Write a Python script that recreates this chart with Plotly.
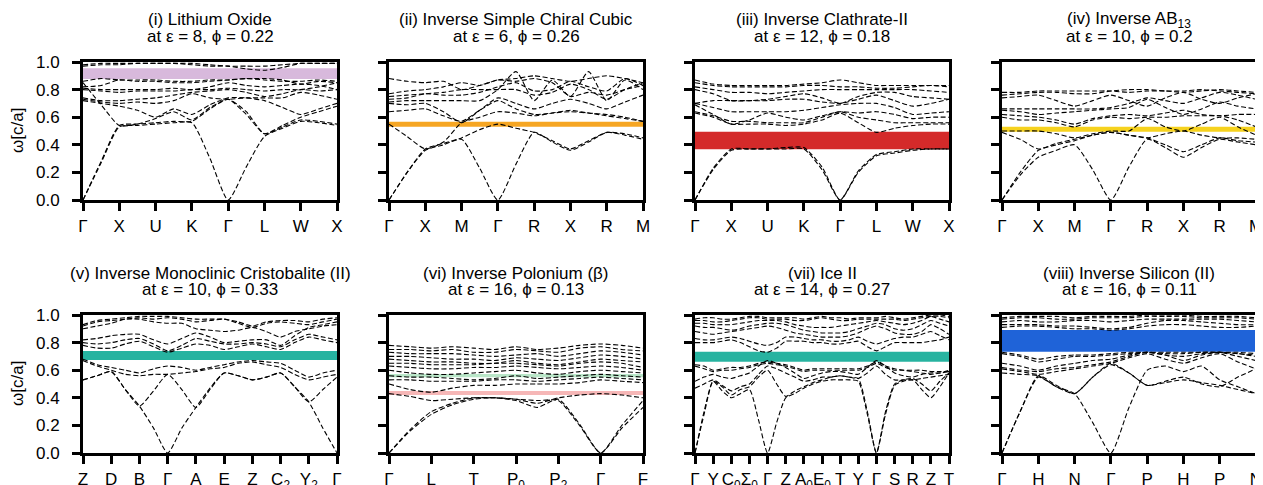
import plotly.graph_objects as go

# ---------------- data ----------------
title_line1 = [
    "(i) Lithium Oxide",
    "(ii) Inverse Simple Chiral Cubic",
    "(iii) Inverse Clathrate-II",
    "(iv) Inverse AB<sub>13</sub>",
    "(v) Inverse Monoclinic Cristobalite (II)",
    "(vi) Inverse Polonium (β)",
    "(vii) Ice II",
    "(viii) Inverse Silicon (II)",
]
title_line2 = [
    "at ε = 8, ϕ = 0.22",
    "at ε = 6, ϕ = 0.26",
    "at ε = 12, ϕ = 0.18",
    "at ε = 10, ϕ = 0.2",
    "at ε = 10, ϕ = 0.33",
    "at ε = 16, ϕ = 0.13",
    "at ε = 14, ϕ = 0.27",
    "at ε = 16, ϕ = 0.11",
]

p1_labels = ["Γ", "X", "U", "K", "Γ", "L", "W", "X"]
p2_labels = ["Γ", "X", "M", "Γ", "R", "X", "R", "M"]
p3_labels = ["Γ", "X", "U", "K", "Γ", "L", "W", "X"]
p4_labels = ["Γ", "X", "M", "Γ", "R", "X", "R", "M"]
p5_labels = ["Z", "D", "B", "Γ", "A", "E", "Z", "C<sub>2</sub>", "Y<sub>2</sub>", "Γ"]
p6_labels = ["Γ", "L", "T", "P<sub>0</sub>", "P<sub>2</sub>", "Γ", "F"]
p7_labels = ["Γ", "Y", "C<sub>0</sub>", "Σ<sub>0</sub>", "Γ", "Z", "A<sub>0</sub>", "E<sub>0</sub>",
             "T", "Y", "Γ", "S", "R", "Z", "T"]
p8_labels = ["Γ", "H", "N", "Γ", "P", "H", "P", "N"]

# band frequencies (omega a/2pi c) sampled at every high-symmetry point and half-way between
p1_bands = [
    [0.00,0.27,0.53,0.54,0.55,0.56,0.56,0.30,0.00,0.24,0.46,0.52,0.57,0.56,0.54],
    [0.00,0.28,0.54,0.55,0.56,0.57,0.57,0.66,0.73,0.62,0.48,0.53,0.58,0.57,0.55],
    [0.85,0.69,0.54,0.55,0.59,0.64,0.58,0.67,0.73,0.64,0.48,0.54,0.60,0.64,0.68],
    [0.72,0.70,0.68,0.65,0.60,0.66,0.62,0.69,0.74,0.74,0.72,0.67,0.62,0.66,0.70],
    [0.73,0.71,0.70,0.71,0.70,0.72,0.77,0.74,0.73,0.74,0.74,0.74,0.78,0.76,0.73],
    [0.74,0.72,0.72,0.73,0.74,0.76,0.78,0.79,0.80,0.78,0.75,0.77,0.80,0.79,0.80],
    [0.80,0.79,0.78,0.79,0.79,0.79,0.80,0.80,0.81,0.80,0.79,0.80,0.80,0.82,0.85],
    [0.81,0.80,0.80,0.80,0.80,0.81,0.80,0.82,0.85,0.83,0.82,0.83,0.84,0.83,0.80],
    [0.82,0.83,0.87,0.86,0.86,0.85,0.85,0.86,0.87,0.88,0.88,0.87,0.84,0.86,0.85],
    [0.86,0.88,0.87,0.87,0.87,0.86,0.86,0.87,0.87,0.88,0.87,0.86,0.86,0.87,0.86],
    [0.97,0.98,0.98,0.99,0.99,0.99,0.98,0.97,0.97,0.95,0.94,0.96,0.99,0.99,0.99],
    [0.98,0.99,0.99,0.99,0.99,0.99,0.99,0.98,0.97,0.97,0.97,0.98,0.99,0.99,0.99],
]
p2_bands = [
    [0.00,0.20,0.36,0.40,0.44,0.23,0.00,0.26,0.49,0.42,0.36,0.42,0.49,0.47,0.44],
    [0.00,0.20,0.37,0.41,0.45,0.51,0.55,0.52,0.49,0.43,0.37,0.43,0.49,0.48,0.45],
    [0.55,0.46,0.37,0.42,0.56,0.60,0.64,0.63,0.61,0.63,0.64,0.63,0.61,0.59,0.57],
    [0.64,0.65,0.66,0.61,0.57,0.65,0.72,0.66,0.62,0.63,0.65,0.63,0.62,0.60,0.57],
    [0.70,0.69,0.70,0.64,0.56,0.65,0.74,0.70,0.66,0.70,0.73,0.70,0.66,0.71,0.76],
    [0.71,0.72,0.72,0.72,0.72,0.72,0.80,0.93,0.72,0.87,0.75,0.93,0.72,0.87,0.80],
    [0.73,0.74,0.77,0.76,0.76,0.78,0.82,0.85,0.79,0.80,0.86,0.82,0.79,0.88,0.83],
    [0.75,0.76,0.77,0.78,0.80,0.80,0.80,0.80,0.76,0.78,0.84,0.80,0.73,0.80,0.85],
    [0.77,0.79,0.80,0.82,0.85,0.83,0.87,0.86,0.88,0.85,0.75,0.78,0.76,0.80,0.83],
    [0.88,0.86,0.85,0.86,0.80,0.83,0.87,0.88,0.90,0.88,0.86,0.88,0.90,0.88,0.85],
]
p3_bands = [
    [0.00,0.22,0.36,0.37,0.37,0.37,0.37,0.22,0.00,0.20,0.32,0.34,0.36,0.37,0.37],
    [0.00,0.23,0.37,0.37,0.37,0.38,0.38,0.24,0.00,0.21,0.33,0.35,0.37,0.37,0.37],
    [0.63,0.60,0.55,0.55,0.55,0.54,0.55,0.58,0.63,0.56,0.49,0.52,0.54,0.55,0.55],
    [0.64,0.61,0.57,0.57,0.56,0.56,0.56,0.60,0.64,0.60,0.58,0.56,0.56,0.56,0.56],
    [0.69,0.62,0.55,0.58,0.63,0.60,0.58,0.61,0.64,0.63,0.64,0.62,0.59,0.60,0.60],
    [0.70,0.67,0.64,0.64,0.64,0.64,0.65,0.67,0.69,0.70,0.70,0.67,0.62,0.63,0.64],
    [0.70,0.72,0.72,0.72,0.72,0.73,0.73,0.71,0.70,0.73,0.76,0.72,0.68,0.70,0.73],
    [0.80,0.77,0.72,0.72,0.73,0.75,0.77,0.74,0.70,0.75,0.78,0.78,0.75,0.74,0.73],
    [0.82,0.80,0.78,0.78,0.77,0.78,0.79,0.80,0.80,0.80,0.80,0.80,0.80,0.79,0.78],
    [0.85,0.83,0.82,0.82,0.82,0.82,0.83,0.83,0.82,0.82,0.81,0.81,0.82,0.83,0.82],
    [0.87,0.84,0.83,0.83,0.83,0.83,0.84,0.85,0.87,0.85,0.83,0.83,0.83,0.83,0.83],
]
p4_bands = [
    [0.00,0.18,0.31,0.36,0.40,0.22,0.00,0.24,0.44,0.38,0.31,0.38,0.44,0.42,0.40],
    [0.00,0.20,0.36,0.40,0.43,0.47,0.49,0.47,0.45,0.40,0.35,0.40,0.45,0.43,0.42],
    [0.49,0.44,0.37,0.41,0.44,0.47,0.49,0.47,0.45,0.48,0.50,0.47,0.45,0.45,0.44],
    [0.50,0.50,0.50,0.48,0.45,0.48,0.50,0.50,0.59,0.53,0.50,0.55,0.60,0.53,0.47],
    [0.60,0.58,0.58,0.56,0.53,0.58,0.60,0.59,0.60,0.60,0.61,0.61,0.61,0.58,0.53],
    [0.62,0.61,0.60,0.58,0.55,0.59,0.61,0.62,0.61,0.63,0.65,0.62,0.61,0.62,0.62],
    [0.65,0.64,0.62,0.63,0.64,0.65,0.66,0.67,0.73,0.67,0.62,0.66,0.71,0.68,0.66],
    [0.66,0.66,0.66,0.66,0.66,0.66,0.67,0.70,0.74,0.72,0.70,0.74,0.78,0.76,0.73],
    [0.74,0.75,0.76,0.72,0.68,0.72,0.76,0.72,0.68,0.74,0.78,0.73,0.70,0.74,0.77],
    [0.76,0.77,0.78,0.78,0.77,0.77,0.79,0.80,0.80,0.79,0.78,0.79,0.80,0.79,0.78],
    [0.78,0.78,0.79,0.79,0.79,0.79,0.79,0.78,0.79,0.79,0.79,0.80,0.79,0.78,0.77],
]
p5_bands = [
    [0.53,0.56,0.59,0.46,0.34,0.18,0.00,0.18,0.33,0.47,0.58,0.56,0.53,0.55,0.58,0.48,0.37,0.18,0.00],
    [0.53,0.56,0.59,0.46,0.34,0.45,0.57,0.46,0.33,0.46,0.58,0.56,0.53,0.55,0.58,0.48,0.37,0.46,0.55],
    [0.67,0.63,0.60,0.57,0.56,0.57,0.57,0.58,0.59,0.61,0.62,0.65,0.66,0.64,0.62,0.57,0.53,0.55,0.57],
    [0.68,0.64,0.62,0.60,0.58,0.61,0.63,0.62,0.60,0.62,0.64,0.66,0.67,0.66,0.65,0.60,0.55,0.58,0.60],
    [0.78,0.76,0.76,0.79,0.81,0.77,0.73,0.76,0.79,0.78,0.75,0.77,0.79,0.77,0.75,0.80,0.84,0.82,0.80],
    [0.80,0.79,0.80,0.82,0.83,0.79,0.74,0.78,0.83,0.81,0.79,0.79,0.80,0.79,0.77,0.82,0.86,0.84,0.82],
    [0.82,0.83,0.85,0.86,0.86,0.82,0.79,0.83,0.87,0.84,0.80,0.81,0.82,0.82,0.78,0.85,0.91,0.93,0.95],
    [0.90,0.92,0.94,0.97,0.97,0.95,0.94,0.94,0.90,0.89,0.88,0.89,0.91,0.88,0.84,0.88,0.90,0.92,0.93],
    [0.92,0.95,0.96,0.97,0.98,0.97,0.98,0.97,0.95,0.96,0.97,0.94,0.91,0.94,0.95,0.94,0.93,0.95,0.97],
    [0.93,0.96,0.97,0.98,0.99,0.99,0.99,0.98,0.97,0.97,0.97,0.95,0.92,0.95,0.96,0.96,0.95,0.97,0.98],
]
p6_bands = [
    [0.00,0.16,0.28,0.35,0.39,0.40,0.39,0.38,0.38,0.20,0.00,0.18,0.33],
    [0.00,0.17,0.30,0.36,0.40,0.40,0.38,0.33,0.39,0.21,0.00,0.20,0.38],
    [0.43,0.41,0.38,0.39,0.40,0.40,0.39,0.36,0.40,0.42,0.43,0.42,0.40],
    [0.50,0.46,0.44,0.47,0.49,0.49,0.50,0.50,0.50,0.51,0.53,0.52,0.51],
    [0.53,0.53,0.52,0.52,0.52,0.53,0.53,0.52,0.53,0.54,0.55,0.54,0.53],
    [0.56,0.55,0.55,0.54,0.53,0.54,0.56,0.54,0.55,0.56,0.57,0.56,0.55],
    [0.60,0.58,0.57,0.57,0.58,0.59,0.60,0.58,0.57,0.59,0.60,0.59,0.58],
    [0.63,0.62,0.61,0.61,0.62,0.62,0.63,0.62,0.61,0.62,0.63,0.62,0.60],
    [0.65,0.65,0.64,0.64,0.64,0.65,0.65,0.64,0.63,0.65,0.66,0.65,0.62],
    [0.68,0.67,0.66,0.66,0.65,0.65,0.67,0.65,0.64,0.66,0.68,0.67,0.66],
    [0.70,0.70,0.69,0.68,0.68,0.67,0.69,0.68,0.67,0.69,0.71,0.70,0.68],
    [0.73,0.72,0.72,0.72,0.71,0.70,0.71,0.72,0.70,0.72,0.74,0.73,0.71],
    [0.75,0.75,0.74,0.75,0.73,0.73,0.75,0.74,0.73,0.76,0.77,0.75,0.74],
    [0.78,0.77,0.76,0.77,0.76,0.75,0.77,0.75,0.76,0.78,0.79,0.78,0.76],
]
p7_bands = [
    [0.00,0.28,0.52,0.45,0.40,0.43,0.46,0.24,0.00,0.22,0.40,0.43,0.47,0.50,0.52,0.53,0.53,0.53,0.52,0.28,0.00,0.28,0.49,0.52,0.53,0.46,0.40,0.48,0.58],
    [0.00,0.30,0.52,0.48,0.42,0.46,0.48,0.55,0.60,0.50,0.41,0.45,0.48,0.51,0.53,0.55,0.56,0.55,0.54,0.30,0.00,0.30,0.50,0.53,0.54,0.50,0.45,0.52,0.58],
    [0.47,0.50,0.53,0.49,0.45,0.48,0.50,0.57,0.63,0.61,0.58,0.55,0.52,0.53,0.55,0.55,0.56,0.55,0.54,0.58,0.63,0.57,0.53,0.53,0.53,0.54,0.55,0.56,0.57],
    [0.52,0.55,0.57,0.55,0.54,0.56,0.58,0.63,0.67,0.65,0.62,0.58,0.54,0.56,0.58,0.59,0.59,0.58,0.57,0.62,0.67,0.63,0.58,0.56,0.55,0.57,0.58,0.58,0.59],
    [0.63,0.61,0.59,0.60,0.60,0.61,0.62,0.64,0.65,0.64,0.63,0.61,0.59,0.60,0.60,0.60,0.60,0.60,0.60,0.62,0.65,0.62,0.60,0.60,0.60,0.60,0.59,0.59,0.59],
    [0.64,0.63,0.60,0.61,0.62,0.62,0.63,0.65,0.66,0.65,0.64,0.62,0.60,0.61,0.61,0.61,0.61,0.61,0.61,0.63,0.66,0.63,0.61,0.60,0.59,0.58,0.57,0.58,0.60],
    [0.80,0.80,0.80,0.81,0.82,0.80,0.77,0.74,0.73,0.76,0.81,0.81,0.81,0.80,0.80,0.79,0.79,0.80,0.81,0.77,0.74,0.77,0.80,0.80,0.80,0.80,0.81,0.82,0.84],
    [0.83,0.82,0.82,0.83,0.84,0.83,0.81,0.79,0.78,0.80,0.84,0.84,0.83,0.82,0.82,0.81,0.81,0.82,0.84,0.81,0.79,0.81,0.83,0.84,0.84,0.86,0.88,0.85,0.82],
    [0.88,0.87,0.86,0.87,0.88,0.89,0.90,0.91,0.92,0.91,0.89,0.87,0.86,0.85,0.84,0.84,0.84,0.85,0.87,0.90,0.92,0.90,0.87,0.86,0.86,0.88,0.93,0.90,0.86],
    [0.92,0.91,0.91,0.90,0.89,0.90,0.92,0.93,0.94,0.94,0.93,0.91,0.89,0.88,0.87,0.87,0.87,0.88,0.90,0.92,0.94,0.93,0.90,0.89,0.90,0.93,0.96,0.94,0.92],
    [0.94,0.94,0.93,0.93,0.93,0.94,0.95,0.96,0.96,0.96,0.95,0.93,0.92,0.91,0.91,0.91,0.92,0.93,0.94,0.95,0.96,0.95,0.94,0.93,0.94,0.96,0.99,0.97,0.95],
    [0.96,0.96,0.95,0.95,0.96,0.97,0.98,0.98,0.97,0.97,0.97,0.96,0.96,0.97,0.98,0.97,0.96,0.96,0.97,0.97,0.97,0.97,0.97,0.96,0.97,0.98,0.99,0.99,0.98],
    [0.97,0.98,0.98,0.97,0.97,0.98,0.99,0.99,0.98,0.98,0.98,0.98,0.97,0.98,0.99,0.98,0.98,0.97,0.98,0.98,0.98,0.99,0.98,0.97,0.98,0.99,1.00,1.00,0.99],
]
p8_bands = [
    [0.00,0.30,0.55,0.48,0.43,0.22,0.00,0.33,0.60,0.63,0.59,0.63,0.53,0.48,0.43],
    [0.00,0.30,0.56,0.49,0.43,0.55,0.64,0.58,0.49,0.52,0.55,0.50,0.48,0.55,0.61],
    [0.58,0.57,0.56,0.48,0.43,0.55,0.65,0.58,0.49,0.51,0.53,0.51,0.49,0.46,0.43],
    [0.61,0.59,0.57,0.59,0.61,0.63,0.65,0.69,0.72,0.68,0.65,0.69,0.72,0.66,0.61],
    [0.62,0.60,0.59,0.61,0.62,0.64,0.66,0.70,0.73,0.71,0.67,0.71,0.73,0.70,0.67],
    [0.65,0.63,0.60,0.63,0.65,0.67,0.68,0.71,0.73,0.71,0.70,0.72,0.73,0.72,0.70],
    [0.72,0.70,0.66,0.68,0.70,0.70,0.71,0.72,0.73,0.72,0.72,0.73,0.73,0.72,0.71],
    [0.73,0.71,0.68,0.70,0.71,0.71,0.72,0.73,0.73,0.73,0.73,0.73,0.73,0.73,0.72],
    [0.91,0.92,0.92,0.91,0.90,0.90,0.89,0.90,0.92,0.93,0.93,0.92,0.91,0.91,0.92],
    [0.93,0.93,0.93,0.92,0.92,0.91,0.90,0.91,0.94,0.96,0.96,0.95,0.94,0.93,0.93],
    [0.95,0.96,0.95,0.95,0.96,0.96,0.95,0.96,0.97,0.97,0.97,0.97,0.97,0.96,0.95],
    [0.97,0.98,0.98,0.97,0.97,0.98,0.98,0.98,0.99,0.99,0.99,0.98,0.98,0.98,0.97],
    [0.98,0.99,0.99,0.99,0.98,0.99,0.99,0.99,1.00,1.00,1.00,0.99,0.99,0.99,0.98],
]

# photonic band gaps: (lower edge, upper edge)
p1_gaps = [(0.877, 0.954)]
p2_gaps = [(0.531, 0.567)]
p3_gaps = [(0.367, 0.495)]
p4_gaps = [(0.495, 0.531)]
p5_gaps = [(0.674, 0.739)]
p6_gaps = [(0.549, 0.572), (0.420, 0.449)]
p7_gaps = [(0.662, 0.734)]
p8_gaps = [(0.734, 0.891)]

y_ticks = [0.0, 0.2, 0.4, 0.6, 0.8, 1.0]

# ---------------- styling / layout ----------------
gap_colors = [["#d8b9dc"], ["#f6a623"], ["#d42a2a"], ["#f6d21e"],
              ["#27b3a0"], ["#b9e6c8", "#f6b7b7"], ["#27b3a0"], ["#1f63d8"]]

all_labels = [p1_labels, p2_labels, p3_labels, p4_labels, p5_labels, p6_labels, p7_labels, p8_labels]
all_bands = [p1_bands, p2_bands, p3_bands, p4_bands, p5_bands, p6_bands, p7_bands, p8_bands]
all_gaps = [p1_gaps, p2_gaps, p3_gaps, p4_gaps, p5_gaps, p6_gaps, p7_gaps, p8_gaps]

OFF = 8  # page body margin
W, H = 1263 - OFF, 485 - OFF
col_left = [83 - OFF, 389 - OFF, 695 - OFF, 1002 - OFF]
pw = 254
rows_px = [(62 - OFF, 200 - OFF), (315 - OFF, 453 - OFF)]  # (top, bottom) pixel
title1_cy = [20 - OFF, 273 - OFF]
title2_cy = [37 - OFF, 289 - OFF]
FONT = "Liberation Sans, Arial, sans-serif"
FS = 17

fig = go.Figure()
layout = dict(width=W, height=H, margin=dict(l=0, r=0, t=0, b=0, autoexpand=False),
              paper_bgcolor="white", plot_bgcolor="white", showlegend=False,
              font=dict(family=FONT, color="black", size=FS))
shapes, annotations = [], []

for i in range(8):
    r, c = divmod(i, 4)
    n = i + 1
    sx = "" if n == 1 else str(n)
    labels = all_labels[i]
    nseg = len(labels) - 1
    npts = 2 * nseg + 1
    kx = [j * 0.5 for j in range(npts)]
    for band in all_bands[i]:
        fig.add_trace(go.Scatter(
            x=kx, y=band, mode="lines", xaxis="x" + sx, yaxis="y" + sx,
            line=dict(color="black", width=1.1, dash="5px,2.5px", shape="spline", smoothing=0.6),
            hoverinfo="skip"))
    top, bot = rows_px[r]
    x0 = col_left[c] / W
    x1 = (col_left[c] + pw) / W
    y0 = (H - bot) / H
    y1 = (H - top) / H
    layout["xaxis" + sx] = dict(
        domain=[x0, x1], range=[0, nseg], anchor="y" + sx, automargin=False, tickangle=0,
        tickvals=list(range(nseg + 1)), ticktext=labels, ticklabelstandoff=1,
        ticklabeloverflow="allow",
        showline=True, linewidth=3, linecolor="black", mirror=True,
        ticks="outside", ticklen=8, tickwidth=3, tickcolor="black",
        showgrid=False, zeroline=False, tickfont=dict(size=FS, family=FONT))
    layout["yaxis" + sx] = dict(
        domain=[y0, y1], range=[0, 1], anchor="x" + sx, automargin=False,
        tickvals=y_ticks, tickformat=".1f", showticklabels=(c == 0), ticklabelstandoff=9,
        showline=True, linewidth=3, linecolor="black", mirror=True,
        ticks="outside", ticklen=8, tickwidth=3, tickcolor="black",
        showgrid=False, zeroline=False, tickfont=dict(size=FS, family=FONT))
    for (lo, hi), col in zip(all_gaps[i], gap_colors[i]):
        shapes.append(dict(type="rect", xref="x" + sx + " domain", yref="y" + sx,
                           x0=0, x1=1, y0=lo, y1=hi, fillcolor=col,
                           line=dict(width=0), layer="below"))
    cx = (col_left[c] + pw / 2) / W
    for txt, cy in ((title_line1[i], title1_cy[r]), (title_line2[i], title2_cy[r])):
        annotations.append(dict(text=txt, x=cx, y=(H - cy) / H,
                                xref="paper", yref="paper", xanchor="center", yanchor="middle",
                                showarrow=False, font=dict(size=FS, family=FONT)))
    if c == 0:
        annotations.append(dict(text="ω[c/a]", x=(17 - OFF) / W, y=(H - (top + bot) / 2) / H,
                                xref="paper", yref="paper", textangle=-90,
                                xanchor="center", yanchor="middle", showarrow=False,
                                font=dict(size=FS, family=FONT)))

layout["shapes"] = shapes
layout["annotations"] = annotations
fig.update_layout(**layout)
fig.write_html("out.html")
